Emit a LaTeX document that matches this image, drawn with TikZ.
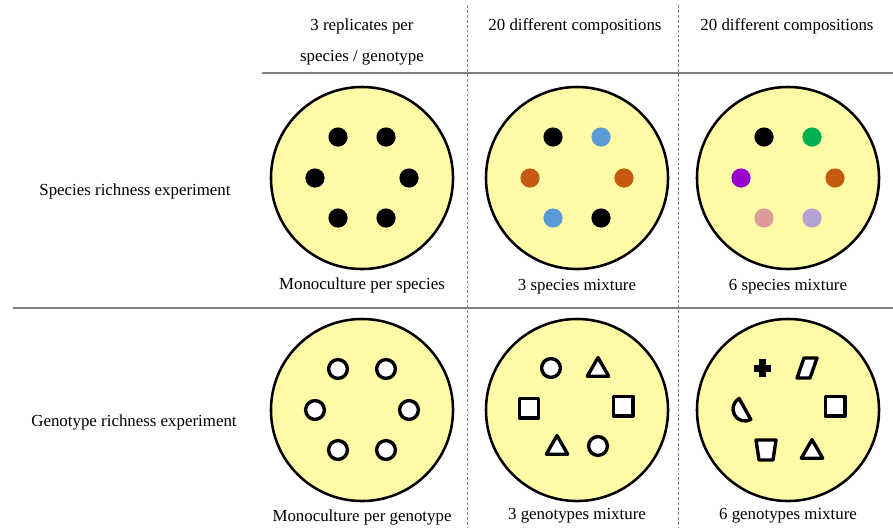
\documentclass[tikz,border=0pt]{standalone}
\usepackage{fontspec}
\setmainfont{Liberation Serif}
\usepackage{tikz}
\usetikzlibrary{positioning,shapes.geometric}
\definecolor{dishfill}{HTML}{FFFAA5}
\definecolor{rulegray}{HTML}{7F7F7F}
\definecolor{sblue}{HTML}{5B9BD5}
\definecolor{sorange}{HTML}{C55A11}
\definecolor{sgreen}{HTML}{00B050}
\definecolor{spurple}{HTML}{9900CC}
\definecolor{spink}{HTML}{DC9A9A}
\definecolor{slavender}{HTML}{B4A2D2}
\tikzset{
  dish/.style={circle,draw=black,line width=1.8pt,fill=dishfill,
    minimum size=4.55cm,inner sep=0pt},
  spot/.style={circle,fill=#1,minimum size=0.48cm,inner sep=0pt},
  mk/.style={draw=black,line width=2.4pt,fill=white,line join=round},
  ring/.style={mk,circle,minimum size=0.47cm,inner sep=0pt},
  tri/.style={mk,regular polygon,regular polygon sides=3,
    minimum size=0.62cm,inner sep=0pt},
  sq/.style={mk,rectangle,minimum size=0.49cm,inner sep=0pt},
  caption/.style={font=\fontsize{12}{14}\selectfont,inner sep=1pt},
  header/.style={align=center,font=\fontsize{12}{22.7}\selectfont},
  rule/.style={draw=rulegray,line width=1.3pt},
  divider/.style={draw=rulegray,line width=0.6pt,dash pattern=on 2pt off 1.5pt}
}
\begin{document}
\begin{tikzpicture}[x=0.025cm,y=-0.025cm]
  \useasboundingbox (0,0) rectangle (893,528);
  % table lines
  \draw[rule] (262,73) -- (893,73);
  \draw[rule] (13,308) -- (893,308);
  \draw[divider] (467,5) -- (467,528);
  \draw[divider] (678,5) -- (678,528);
  % column heads and row names
  \node[header] (hmono) at (362,42) {3 replicates per\\species / genotype};
  \node[header] (hmix3) at (575,26) {20 different compositions};
  \node[header] (hmix6) at (787,26) {20 different compositions};
  \node[caption] (rspecies) at (135,191) {Species richness experiment};
  \node[caption] (rgeno) at (134,422) {Genotype richness experiment};
  % dishes
  \foreach \n/\x in {1/362,2/577,3/788}{
    \node[dish] (s\n) at (\x,178) {};
    \node[dish] (g\n) at (\x,410) {};
  }
  \node[caption,below=4pt of s1] (cs1) {Monoculture per species};
  \node[caption,below=5pt of s2] (cs2) {3 species mixture};
  \node[caption,below=5pt of s3] (cs3) {6 species mixture};
  \node[caption,below=4pt of g1] (cg1) {Monoculture per genotype};
  \node[caption,below=3pt of g2] (cg2) {3 genotypes mixture};
  \node[caption,below=3pt of g3] (cg3) {6 genotypes mixture};
  % species row
  \foreach \dx/\dy/\cb/\cc [count=\i] in {-24/-41/black/black,24/-41/sblue/sgreen,
      -47/0/sorange/spurple,47/0/sorange/sorange,-24/40/sblue/spink,24/40/black/slavender}{
    \node[spot=black] (s1d\i) at ([shift={(\dx,\dy)}]s1.center) {};
    \node[spot=\cb] (s2d\i) at ([shift={(\dx,\dy)}]s2.center) {};
    \node[spot=\cc] (s3d\i) at ([shift={(\dx,\dy)}]s3.center) {};
  }
  % genotype row
  \foreach \dx/\dy [count=\i] in {-24/-41,24/-41,-47/0,47/0,-24/40,24/40}
    \node[ring] (g1d\i) at ([shift={(\dx,\dy)}]g1.center) {};
  \node[ring] (g2d1) at ([shift={(-26,-42)}]g2.center) {};
  \node[tri] (g2d2) at ([shift={(21,-40)}]g2.center) {};
  \node[sq] (g2d3) at ([shift={(-48,-2)}]g2.center) {};
  \node[sq] (g2d4) at ([shift={(46,-4)}]g2.center) {};
  \node[tri] (g2d5) at ([shift={(-20,38)}]g2.center) {};
  \node[ring] (g2d6) at ([shift={(21,36)}]g2.center) {};
  \fill ([shift={(-26,-42)}]g3.center) ++(-3.5,-9) rectangle ++(7,18);
  \fill ([shift={(-26,-42)}]g3.center) ++(-8.5,-3.5) rectangle ++(17,7);
  \draw[mk] ([shift={(19,-42)}]g3.center) ++(-10,10) -- ++(13,0) -- ++(7,-20)
    -- ++(-13,0) -- cycle;
  \draw[mk] ([shift={(-43,-1)}]g3.center) ++(119:0.3cm)
    arc[start angle=119,end angle=299,radius=0.3cm] -- cycle;
  \node[sq] (g3d4) at ([shift={(47,-4)}]g3.center) {};
  \draw[mk] ([shift={(-22,40)}]g3.center) ++(-10,-10) -- ++(20,0) -- ++(-3,20)
    -- ++(-14,0) -- cycle;
  \node[tri] (g3d6) at ([shift={(24,42)}]g3.center) {};
\end{tikzpicture}
\end{document}
